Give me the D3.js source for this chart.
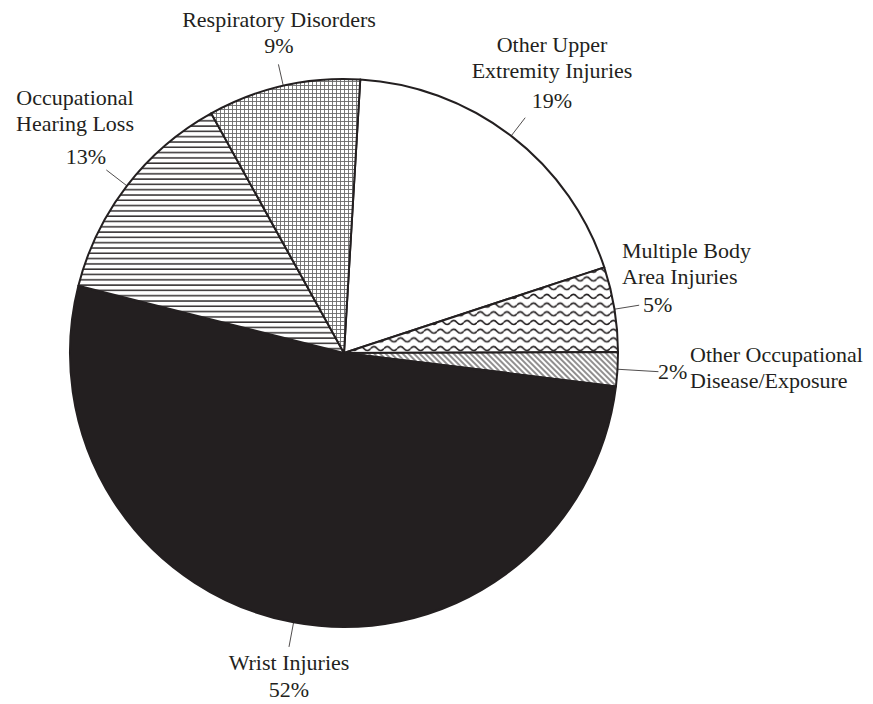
<!DOCTYPE html>
<html>
<head>
<meta charset="utf-8">
<script src="https://cdn.jsdelivr.net/npm/d3@7"></script>
<style>
  body { margin: 0; background: #fff; }
</style>
</head>
<body>
<div id="chart"></div>
<script>
// data, clockwise from just right of 12 o'clock
const categories = [
  "Other Upper Extremity Injuries",
  "Multiple Body Area Injuries",
  "Other Occupational Disease/Exposure",
  "Wrist Injuries",
  "Occupational Hearing Loss",
  "Respiratory Disorders"
];
const values = [19, 5, 2, 52, 13, 9];
const labelLines = [
  ["Other Upper", "Extremity Injuries"],
  ["Multiple Body", "Area Injuries"],
  ["Other Occupational", "Disease/Exposure"],
  ["Wrist Injuries"],
  ["Occupational", "Hearing Loss"],
  ["Respiratory Disorders"]
];
const fills = ["#fff", "url(#waves)", "url(#diag)", "#231f20", "url(#hlines)", "url(#grid)"];

// label layout: name position, percent position, leader length
const labelLayout = [
  { x: 552, y: 52, anchor: "middle", px: 552, py: 108, panchor: "middle", leader: 23 },
  { x: 622, y: 258, anchor: "start", px: 643, py: 312, panchor: "start", leader: 25 },
  { x: 690, y: 362, anchor: "start", px: 658, py: 379, panchor: "start", leader: 41 },
  { x: 289, y: 670, anchor: "middle", px: 289, py: 697, panchor: "middle", leader: 25 },
  { x: 75, y: 105, anchor: "middle", px: 86, py: 164, panchor: "middle", leader: 26 },
  { x: 279, y: 27, anchor: "middle", px: 279, py: 53, panchor: "middle", leader: 22 }
];

const width = 873, height = 704;
const cx = 344, cy = 353, radius = 274;
const ink = "#231f20";
const font = "'Liberation Serif', 'Times New Roman', serif";

const svg = d3.select("#chart")
  .append("svg")
  .attr("width", width)
  .attr("height", height);

const defs = svg.append("defs");

// fine grid
const grid = defs.append("pattern")
  .attr("id", "grid").attr("patternUnits", "userSpaceOnUse")
  .attr("width", 4).attr("height", 4);
grid.append("rect").attr("width", 4).attr("height", 4).attr("fill", "#fff");
grid.append("path").attr("d", "M0 0.5H4M0.5 0V4")
  .attr("stroke", "#6a6a6a").attr("stroke-width", 0.9).attr("fill", "none");

// horizontal lines
const hl = defs.append("pattern")
  .attr("id", "hlines").attr("patternUnits", "userSpaceOnUse")
  .attr("width", 10).attr("height", 5.3);
hl.append("rect").attr("width", 10).attr("height", 5.3).attr("fill", "#fff");
hl.append("path").attr("d", "M0 1H10")
  .attr("stroke", ink).attr("stroke-width", 1.4);

// wavy lines
const wv = defs.append("pattern")
  .attr("id", "waves").attr("patternUnits", "userSpaceOnUse")
  .attr("width", 13.3).attr("height", 8.7);
wv.append("rect").attr("width", 13.3).attr("height", 8.7).attr("fill", "#fff");
wv.append("path").attr("d", "M0 4.3Q3.33 0.3 6.65 4.3T13.3 4.3")
  .attr("stroke", ink).attr("stroke-width", 1.6).attr("fill", "none");

// diagonal lines
const dg = defs.append("pattern")
  .attr("id", "diag").attr("patternUnits", "userSpaceOnUse")
  .attr("width", 4).attr("height", 4)
  .attr("patternTransform", "rotate(-45)");
dg.append("rect").attr("width", 4).attr("height", 4).attr("fill", "#fff");
dg.append("path").attr("d", "M1 0V4")
  .attr("stroke", ink).attr("stroke-width", 1);

const start = 3.4 * Math.PI / 180;
const pie = d3.pie().sort(null).value(d => d)
  .startAngle(start).endAngle(start + 2 * Math.PI);
const arcs = pie(values);

const arc = d3.arc().innerRadius(0).outerRadius(radius);

const g = svg.append("g").attr("transform", `translate(${cx},${cy})`);

g.selectAll("path.slice")
  .data(arcs)
  .enter()
  .append("path")
  .attr("class", "slice")
  .attr("d", arc)
  .attr("fill", (d, i) => fills[i])
  .attr("stroke", ink)
  .attr("stroke-width", 2)
  .attr("stroke-linejoin", "round");

// leaders
g.selectAll("line.leader")
  .data(arcs)
  .enter()
  .append("line")
  .attr("class", "leader")
  .each(function(d, i) {
    const a = (d.startAngle + d.endAngle) / 2;
    const r2 = radius + labelLayout[i].leader;
    d3.select(this)
      .attr("x1", Math.sin(a) * radius).attr("y1", -Math.cos(a) * radius)
      .attr("x2", Math.sin(a) * r2).attr("y2", -Math.cos(a) * r2);
  })
  .attr("stroke", ink)
  .attr("stroke-width", 0.8);

// labels
const labels = svg.append("g")
  .attr("font-family", font)
  .attr("font-size", 22)
  .attr("fill", ink);

arcs.forEach((d, i) => {
  const L = labelLayout[i];
  const t = labels.append("text")
    .attr("text-anchor", L.anchor);
  labelLines[i].forEach((line, j) => {
    t.append("tspan")
      .attr("x", L.x)
      .attr("y", L.y + j * 26)
      .text(line);
  });
  labels.append("text")
    .attr("text-anchor", L.panchor)
    .attr("x", L.px)
    .attr("y", L.py)
    .text(d3.format(".0f")(d.value) + "%");
});
</script>
</body>
</html>
